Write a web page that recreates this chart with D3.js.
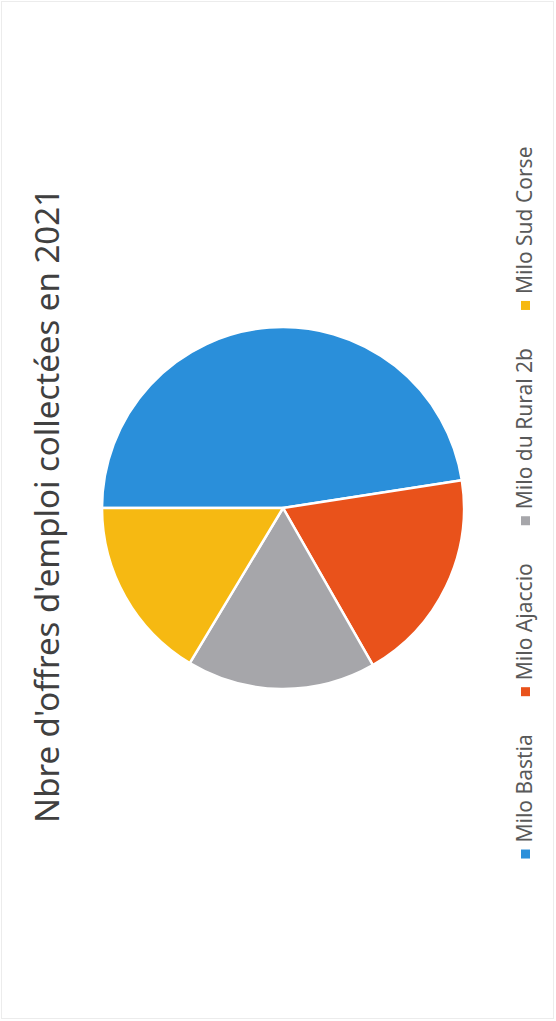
<!DOCTYPE html>
<html>
<head>
<meta charset="utf-8">
<script src="https://cdn.jsdelivr.net/npm/d3@7"></script>
<style>
  body { margin: 0; background: #fff; }
  svg { display: block; }
</style>
</head>
<body>
<div id="chart"></div>
<script>
// Données du graphique
const titre = "Nbre d'offres d'emploi collectées en 2021";
const categories = ["Milo Bastia", "Milo Ajaccio", "Milo du Rural 2b", "Milo Sud Corse"];
const valeurs = [476, 192, 169, 164];
const couleurs = ["#2a8fda", "#e9521b", "#a6a6aa", "#f6b912"];

// Dimensions de la page (le graphique est tourné de 90°)
const width = 556;
const height = 1021;

const svg = d3.select("#chart")
    .append("svg")
    .attr("width", width)
    .attr("height", height);

// cadre léger
svg.append("rect")
    .attr("x", 1.5)
    .attr("y", 1.5)
    .attr("width", width - 4)
    .attr("height", height - 4)
    .style("fill", "none")
    .style("stroke", "#ececec")
    .style("stroke-width", 1);

// Groupe tourné : on dessine dans un repère 1021 x 556
const g = svg.append("g")
    .attr("transform", "translate(0," + height + ") rotate(-90)");

const W = height;

// Titre
g.append("text")
    .attr("x", W / 2 + 5)
    .attr("y", 59)
    .attr("text-anchor", "middle")
    .style("font-family", "'Noto Sans', 'Open Sans', sans-serif")
    .style("font-size", "33px")
    .style("fill", "#404040")
    .text(titre);

// Camembert
const rayon = 181;
const centre = [W - 508, 283];

const pie = d3.pie()
    .sort(null)
    .value(d => d);

const arc = d3.arc()
    .innerRadius(0)
    .outerRadius(rayon);

g.append("g")
    .attr("transform", "translate(" + centre[0] + "," + centre[1] + ")")
    .selectAll("path")
    .data(pie(valeurs))
    .enter()
    .append("path")
    .attr("d", arc)
    .style("fill", (d, i) => couleurs[i])
    .style("stroke", "#fff")
    .style("stroke-width", 2.5)
    .style("stroke-linejoin", "round");

// Légende
const legende = g.append("g");
const items = legende.selectAll("g")
    .data(categories)
    .enter()
    .append("g");

items.append("rect")
    .attr("width", 9)
    .attr("height", 9)
    .attr("y", -11)
    .style("fill", (d, i) => couleurs[i]);

items.append("text")
    .attr("x", 16)
    .attr("y", 0)
    .style("font-family", "'Noto Sans', 'Open Sans', sans-serif")
    .style("font-size", "21px")
    .style("fill", "#595959")
    .text(d => d);

// placement horizontal selon la largeur des textes
let pos = 0;
const ecart = 38;
items.each(function () {
    const w = 16 + d3.select(this).select("text").node().getComputedTextLength();
    d3.select(this).attr("transform", "translate(" + pos + ",0)");
    pos += w + ecart;
});
const total = pos - ecart;
legende.attr("transform", "translate(" + (W / 2 + 8 - total / 2) + ",532)");
</script>
</body>
</html>
